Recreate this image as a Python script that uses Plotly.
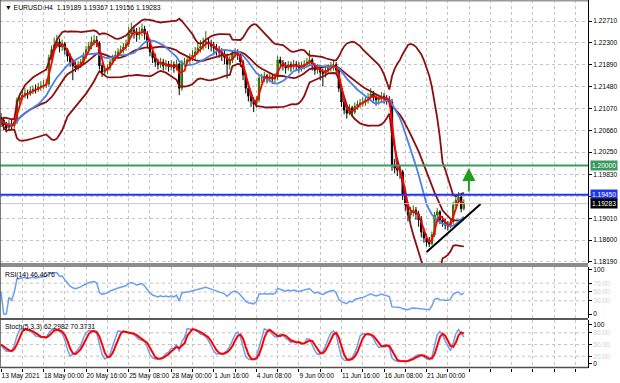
import numpy as np
import pandas as pd
import plotly.graph_objects as go

# ---------------- data ----------------
title_text = "\u25BC EURUSD.H4  1.19189 1.19367 1.19156 1.19283"
first_open = 1.2090

close = [
1.2085,1.2076,1.2070,1.2078,1.2074,1.2082,1.2123,1.2128,1.2132,1.2136,
1.2134,1.2140,1.2143,1.2142,1.2147,1.2149,1.2151,1.2153,1.2202,1.2217,
1.2226,1.2232,1.2222,1.2228,1.2217,1.2205,1.2194,1.2187,1.2183,1.2189,
1.2194,1.2205,1.2217,1.2224,1.2232,1.2235,1.2230,1.2187,1.2175,1.2179,
1.2183,1.2194,1.2202,1.2207,1.2213,1.2217,1.2222,1.2228,1.2247,1.2254,
1.2250,1.2245,1.2250,1.2256,1.2247,1.2232,1.2213,1.2202,1.2194,1.2189,
1.2194,1.2187,1.2190,1.2185,1.2189,1.2183,1.2190,1.2145,1.2194,1.2194,
1.2198,1.2202,1.2207,1.2213,1.2220,1.2224,1.2228,1.2232,1.2228,1.2224,
1.2220,1.2217,1.2213,1.2207,1.2203,1.2190,1.2198,1.2209,1.2213,1.2207,
1.2194,1.2170,1.2145,1.2130,1.2121,1.2115,1.2123,1.2164,1.2164,1.2168,
1.2162,1.2166,1.2162,1.2166,1.2198,1.2192,1.2187,1.2183,1.2189,1.2185,
1.2190,1.2187,1.2183,1.2187,1.2190,1.2194,1.2198,1.2187,1.2179,1.2183,
1.2175,1.2172,1.2179,1.2183,1.2187,1.2189,1.2179,1.2145,1.2119,1.2104,
1.2098,1.2108,1.2100,1.2111,1.2115,1.2117,1.2119,1.2123,1.2128,1.2134,
1.2128,1.2123,1.2126,1.2130,1.2126,1.2123,1.2119,1.2001,1.1995,1.1991,
1.1988,1.1945,1.1926,1.1907,1.1913,1.1916,1.1909,1.1898,1.1875,1.1864,
1.1856,1.1853,1.1870,1.1907,1.1913,1.1898,1.1894,1.1888,1.1886,1.1894,
1.1926,1.1935,1.1941,1.19189,1.19283]

high = [
1.2098,1.2090,1.2082,1.2085,1.2088,1.2090,1.2128,1.2135,1.2140,1.2145,
1.2142,1.2148,1.2150,1.2152,1.2155,1.2158,1.2160,1.2162,1.2208,1.2225,
1.2240,1.2245,1.2238,1.2236,1.2232,1.2220,1.2210,1.2200,1.2195,1.2196,
1.2200,1.2212,1.2224,1.2232,1.2242,1.2245,1.2243,1.2233,1.2192,1.2186,
1.2190,1.2200,1.2208,1.2215,1.2220,1.2225,1.2230,1.2236,1.2260,1.2268,
1.2262,1.2258,1.2260,1.2266,1.2262,1.2252,1.2238,1.2220,1.2210,1.2200,
1.2202,1.2200,1.2198,1.2196,1.2197,1.2195,1.2198,1.2193,1.2198,1.2202,
1.2206,1.2210,1.2216,1.2222,1.2230,1.2235,1.2240,1.2252,1.2240,1.2236,
1.2232,1.2228,1.2224,1.2220,1.2215,1.2210,1.2205,1.2215,1.2220,1.2218,
1.2212,1.2198,1.2175,1.2150,1.2135,1.2128,1.2130,1.2170,1.2172,1.2175,
1.2172,1.2174,1.2170,1.2173,1.2205,1.2204,1.2198,1.2194,1.2196,1.2195,
1.2198,1.2196,1.2194,1.2195,1.2198,1.2202,1.2216,1.2202,1.2192,1.2190,
1.2188,1.2182,1.2186,1.2190,1.2194,1.2196,1.2194,1.2182,1.2150,1.2125,
1.2110,1.2115,1.2112,1.2118,1.2122,1.2125,1.2127,1.2131,1.2136,1.2145,
1.2140,1.2134,1.2133,1.2138,1.2136,1.2132,1.2130,1.2125,1.2012,1.2005,
1.2000,1.1992,1.1950,1.1932,1.1922,1.1925,1.1922,1.1915,1.1905,1.1882,
1.1872,1.1866,1.1876,1.1913,1.1920,1.1916,1.1905,1.1900,1.1896,1.1900,
1.1932,1.1942,1.1950,1.1944,1.19367]

low = [
1.2072,1.2066,1.2062,1.2065,1.2068,1.2070,1.2078,1.2115,1.2122,1.2126,
1.2125,1.2130,1.2134,1.2135,1.2138,1.2140,1.2143,1.2145,1.2148,1.2198,
1.2212,1.2220,1.2212,1.2215,1.2208,1.2195,1.2185,1.2160,1.2175,1.2178,
1.2183,1.2190,1.2200,1.2212,1.2218,1.2225,1.2222,1.2180,1.2166,1.2168,
1.2172,1.2178,1.2188,1.2196,1.2200,1.2205,1.2210,1.2215,1.2222,1.2240,
1.2238,1.2232,1.2236,1.2242,1.2236,1.2222,1.2205,1.2192,1.2185,1.2180,
1.2183,1.2178,1.2180,1.2176,1.2178,1.2174,1.2178,1.2132,1.2140,1.2185,
1.2186,1.2190,1.2196,1.2200,1.2208,1.2212,1.2216,1.2220,1.2218,1.2214,
1.2210,1.2206,1.2202,1.2196,1.2190,1.2163,1.2180,1.2192,1.2202,1.2198,
1.2185,1.2160,1.2135,1.2120,1.2110,1.2100,1.2108,1.2118,1.2155,1.2156,
1.2154,1.2156,1.2153,1.2155,1.2160,1.2183,1.2178,1.2172,1.2178,1.2176,
1.2180,1.2178,1.2174,1.2176,1.2180,1.2184,1.2188,1.2178,1.2170,1.2172,
1.2160,1.2148,1.2165,1.2172,1.2176,1.2178,1.2170,1.2138,1.2110,1.2096,
1.2088,1.2094,1.2092,1.2096,1.2104,1.2108,1.2110,1.2112,1.2116,1.2122,
1.2120,1.2112,1.2114,1.2118,1.2116,1.2114,1.2110,1.1990,1.1985,1.1980,
1.1975,1.1935,1.1915,1.1895,1.1900,1.1904,1.1898,1.1885,1.1865,1.1855,
1.1848,1.1847,1.1850,1.1866,1.1900,1.1890,1.1885,1.1880,1.1878,1.1882,
1.1890,1.1920,1.1928,1.1912,1.19156]

date_labels = ["13 May 2021", "18 May 00:00", "20 May 16:00", "25 May 08:00",
               "28 May 00:00", "1 Jun 16:00", "4 Jun 08:00", "9 Jun 00:00",
               "11 Jun 16:00", "16 Jun 08:00", "21 Jun 00:00"]
bars_per_label = 16

price_ticks = [1.22710, 1.22300, 1.21890, 1.21480, 1.21070, 1.20660,
               1.20250, 1.19830, 1.19420, 1.19010, 1.18600, 1.18190]
hidden_ticks = [1.19420]

level_green = 1.20000
level_blue = 1.19450

trend_bars = [160.0, 180.3]
trend_prices = [1.18376, 1.19277]
arrow_bar = 175.9
arrow_from = 1.19483
arrow_to = 1.19952

rsi_levels = [30, 50, 70]
stoch_levels = [20, 50, 80]
rsi_label = "RSI(14) 46.4676"
stoch_label = "Stoch(5,3,3) 62.2982 70.3731"

# ---------------- indicators ----------------
n = len(close)
bars = np.arange(n)
opens = [first_open] + close[:-1]
s = pd.Series(close)
hs = pd.Series(high)
ls = pd.Series(low)

ma_fast = s.rolling(3, min_periods=1).mean()
ma_slow = s.rolling(14, min_periods=1).mean()
bb_mid = s.rolling(20, min_periods=1).mean()
bb_sd = s.rolling(20, min_periods=1).std(ddof=0).fillna(0)
bb_up = bb_mid + 2 * bb_sd
bb_dn = bb_mid - 2 * bb_sd

delta = s.diff().fillna(0)
gain = delta.clip(lower=0).ewm(alpha=1 / 14, adjust=True).mean()
loss = (-delta.clip(upper=0)).ewm(alpha=1 / 14, adjust=True).mean()
rsi = (100 - 100 / (1 + gain / loss.replace(0, np.nan))).fillna(50)

hh = hs.rolling(5, min_periods=1).max()
ll = ls.rolling(5, min_periods=1).min()
stoch_k = ((s - ll).rolling(3, min_periods=1).sum()
           / (hh - ll).rolling(3, min_periods=1).sum() * 100)
stoch_d = stoch_k.rolling(3, min_periods=1).mean()

# ---------------- figure ----------------
FONT = "Liberation Sans, Arial, sans-serif"
GRID = "#c4c4c4"
MAROON = "#8b0f0f"

fig = go.Figure()

fig.add_trace(go.Candlestick(
    x=bars, open=opens, high=high, low=low, close=close,
    increasing=dict(line=dict(color="#2f6a00", width=1), fillcolor="#3f9400"),
    decreasing=dict(line=dict(color="#000000", width=1), fillcolor="#000000"),
    whiskerwidth=0, xaxis="x", yaxis="y", showlegend=False, hoverinfo="skip"))

for band in (bb_up, bb_mid, bb_dn):
    fig.add_trace(go.Scatter(x=bars, y=band, mode="lines",
                             line=dict(color=MAROON, width=1.8),
                             xaxis="x", yaxis="y", showlegend=False, hoverinfo="skip"))
fig.add_trace(go.Scatter(x=bars, y=ma_slow, mode="lines",
                         line=dict(color="#4a82e8", width=1.8),
                         xaxis="x", yaxis="y", showlegend=False, hoverinfo="skip"))
fig.add_trace(go.Scatter(x=bars, y=ma_fast, mode="lines",
                         line=dict(color="#ff0000", width=1.8),
                         xaxis="x", yaxis="y", showlegend=False, hoverinfo="skip"))
fig.add_trace(go.Scatter(x=trend_bars, y=trend_prices, mode="lines",
                         line=dict(color="#000000", width=2),
                         xaxis="x", yaxis="y", showlegend=False, hoverinfo="skip"))

fig.add_trace(go.Scatter(x=bars, y=rsi, mode="lines",
                         line=dict(color="#6a9ff0", width=1.5),
                         xaxis="x2", yaxis="y2", showlegend=False, hoverinfo="skip"))
fig.add_trace(go.Scatter(x=bars, y=stoch_k, mode="lines",
                         line=dict(color="#6a9ff0", width=1.5),
                         xaxis="x3", yaxis="y3", showlegend=False, hoverinfo="skip"))
fig.add_trace(go.Scatter(x=bars, y=stoch_d, mode="lines",
                         line=dict(color="#ff0000", width=2),
                         xaxis="x3", yaxis="y3", showlegend=False, hoverinfo="skip"))

# geometry
W, H = 620, 383
mt, mb, ml, mr = 0, 15, 0, 32
ph = H - mt - mb


def py(ypx):
    return (ph - ypx) / ph


main_dom = [py(263), 1.0]
rsi_dom = [py(318), py(267)]
sto_dom = [0.0, py(320)]

x_range = [-0.376, 220.68]
grid_vals = list(range(0, 224, 8))
label_text = []
for v in grid_vals:
    k = v // bars_per_label
    if v % bars_per_label == 0 and k < len(date_labels):
        label_text.append(date_labels[k])
    else:
        label_text.append("")

xcommon = dict(range=x_range, showgrid=True, gridcolor=GRID, griddash="dot",
               gridwidth=1, zeroline=False, tickvals=grid_vals, showline=False)

price_text = ["" if t in hidden_ticks else f"{t:.5f}" for t in price_ticks]


def lvl_txt(v, edge):
    if edge:
        return str(v)
    return f'<span style="color:#cfcfcf">{v:.2f}</span>'


rsi_tv = [0] + rsi_levels + [100]
rsi_tt = [lvl_txt(v, v in (0, 100)) for v in rsi_tv]
sto_tv = [0] + stoch_levels + [100]
sto_tt = [lvl_txt(v, v in (0, 100)) for v in sto_tv]

ycommon = dict(side="right", ticks="outside", ticklen=3, tickcolor="#000000",
               showline=True, linecolor="#000000", linewidth=1, zeroline=False,
               tickfont=dict(family=FONT, size=6.6, color="#000000"))

fig.update_layout(
    width=W, height=H, paper_bgcolor="#ffffff", plot_bgcolor="#ffffff",
    margin=dict(l=ml, r=mr, t=mt, b=mb, autoexpand=False),
    showlegend=False, font=dict(family=FONT, size=7, color="#000000"),
    xaxis=dict(xcommon, anchor="y", showticklabels=False, rangeslider=dict(visible=False)),
    xaxis2=dict(xcommon, anchor="y2", matches="x", showticklabels=False),
    xaxis3=dict(xcommon, anchor="y3", matches="x", ticktext=label_text,
                ticks="outside", ticklen=3, tickcolor="#000000", tickangle=0,
                ticklabelposition="outside right", ticklabelstandoff=1,
                tickfont=dict(family=FONT, size=6.6, color="#000000")),
    yaxis=dict(ycommon, domain=main_dom, anchor="x", range=[1.18170, 1.23104],
               tickvals=price_ticks, ticktext=price_text, showgrid=True,
               gridcolor=GRID, griddash="dot"),
    yaxis2=dict(ycommon, domain=rsi_dom, anchor="x2", range=[-9.1, 106.8],
                tickvals=rsi_tv, ticktext=rsi_tt, showgrid=False),
    yaxis3=dict(ycommon, domain=sto_dom, anchor="x3", range=[-10.3, 112.8],
                tickvals=sto_tv, ticktext=sto_tt, showgrid=False),
)

shapes = []
for lv in rsi_levels:
    shapes.append(dict(type="line", xref="x2 domain", x0=0, x1=1, yref="y2", y0=lv, y1=lv,
                       line=dict(color=GRID, width=1, dash="dot"), layer="below"))
for lv in stoch_levels:
    shapes.append(dict(type="line", xref="x3 domain", x0=0, x1=1, yref="y3", y0=lv, y1=lv,
                       line=dict(color=GRID, width=1, dash="dot"), layer="below"))
shapes.append(dict(type="line", xref="x domain", x0=0, x1=1, yref="y", y0=close[-1], y1=close[-1],
                   line=dict(color="#c8c8c8", width=1)))
shapes.append(dict(type="line", xref="x domain", x0=0, x1=1, yref="y", y0=level_green, y1=level_green,
                   line=dict(color="#3f9a66", width=2)))
shapes.append(dict(type="line", xref="x domain", x0=0, x1=1, yref="y", y0=level_blue, y1=level_blue,
                   line=dict(color="#1f36ee", width=2)))
shapes.append(dict(type="rect", xref="paper", x0=0, x1=1, yref="paper", y0=py(267), y1=py(263),
                   fillcolor="#8c8c8c", line=dict(width=0)))
shapes.append(dict(type="rect", xref="paper", x0=0, x1=1, yref="paper", y0=py(320), y1=py(318),
                   fillcolor="#5a5a5a", line=dict(width=0)))
shapes.append(dict(type="line", xref="paper", x0=0, x1=1, yref="paper", y0=py(367.5), y1=py(367.5),
                   line=dict(color="#505050", width=1.5)))
shapes.append(dict(type="line", xref="paper", x0=0, x1=1, yref="paper", y0=1, y1=1,
                   line=dict(color="#9a9a9a", width=3)))
shapes.append(dict(type="line", xref="paper", x0=0, x1=0, yref="paper", y0=0, y1=1,
                   line=dict(color="#505050", width=1.5)))
fig.update_layout(shapes=shapes)

annots = []
annots.append(dict(xref="paper", yref="paper", x=0.005, y=1, xanchor="left", yanchor="top",
                   yshift=-2, text=title_text, showarrow=False,
                   font=dict(family=FONT, size=6.8, color="#000000")))
annots.append(dict(xref="paper", yref="paper", x=0.005, y=rsi_dom[1], xanchor="left", yanchor="top",
                   yshift=-2, text=rsi_label, showarrow=False,
                   font=dict(family=FONT, size=6.8, color="#000000")))
annots.append(dict(xref="paper", yref="paper", x=0.005, y=sto_dom[1], xanchor="left", yanchor="top",
                   yshift=-1, text=stoch_label, showarrow=False,
                   font=dict(family=FONT, size=6.8, color="#000000")))
for val, bg in ((level_green, "#3a9a60"), (level_blue, "#1f36ee"), (close[-1], "#000000")):
    annots.append(dict(xref="paper", yref="y", x=1, y=val, xanchor="left", yanchor="middle",
                       xshift=2, text=f"{val:.5f}", showarrow=False, bgcolor=bg, borderpad=1,
                       font=dict(family=FONT, size=6.6, color="#ffffff")))
annots.append(dict(xref="x", yref="y", x=arrow_bar, y=arrow_to, ax=arrow_bar, ay=arrow_from,
                   axref="x", ayref="y", showarrow=True, arrowhead=2, arrowsize=1.3,
                   arrowwidth=2, arrowcolor="#1e9e1e", text=""))
fig.update_layout(annotations=annots)

fig.write_html("out.html")
